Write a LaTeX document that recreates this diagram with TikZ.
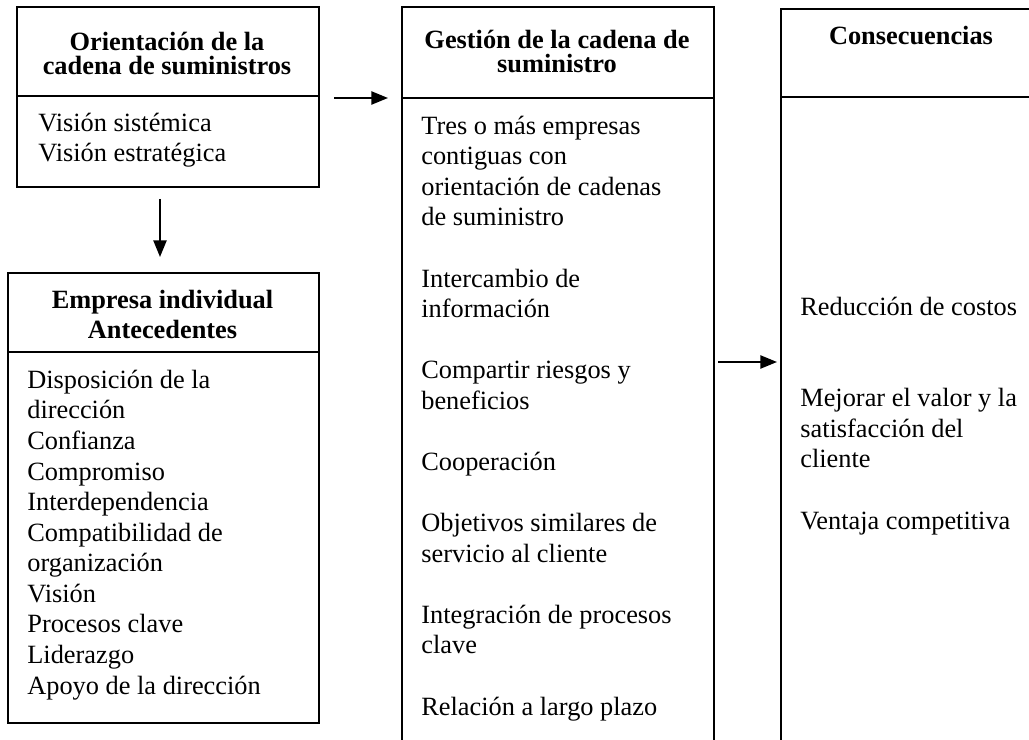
\documentclass[tikz,border=0pt]{standalone}
\usepackage{fontspec}
\setmainfont{Liberation Serif}
\usetikzlibrary{arrows.meta}
\tikzset{
	caja/.style={draw, line width=1.1pt, rectangle, inner sep=0pt, anchor=north west},
	titulo/.style={font=\bfseries\fontsize{15}{13.9}\selectfont, align=center, anchor=base, inner sep=0pt},
	lista/.style={font=\fontsize{15}{17.4}\selectfont, align=left, anchor=base west, inner sep=0pt},
	flecha/.style={line width=1.1pt, -{Triangle[length=9.5pt,width=7.5pt]}}
}
\begin{document}
\begin{tikzpicture}[x=0.02cm, y=-0.02cm]
				\useasboundingbox (0,0) rectangle (1029,740);
				\clip (0,0) rectangle (1029,740);
				\node[caja, minimum width=6.04cm, minimum height=3.6cm] (orient) at (16,6) {};
				\node[caja, minimum width=6.22cm, minimum height=9cm] (empresa) at (7,272) {};
				\node[caja, minimum width=6.24cm, minimum height=15.2cm] (gestion) at (401,6) {};
				\node[caja, minimum width=5.24cm, minimum height=15.2cm] (consec) at (780,8) {};
				\draw[line width=1.1pt] (orient.north west) ++(0,90) coordinate (d1) -- (d1 -| orient.east);
				\draw[line width=1.1pt] (empresa.north west) ++(0,80) coordinate (d2) -- (d2 -| empresa.east);
				\draw[line width=1.1pt] (gestion.north west) ++(0,92) coordinate (d3) -- (d3 -| gestion.east);
				\draw[line width=1.1pt] (consec.north west) ++(0,89) coordinate (d4) -- (d4 -| consec.east);
				\node[titulo] (t1) at (167,75) {Orientación de la\\cadena de suministros};
				\node[titulo, font=\bfseries\fontsize{15}{17}\selectfont] (t2) at (162.5,338) {Empresa individual\\Antecedentes};
				\node[titulo] (t3) at (557,73) {Gestión de la cadena de\\suministro};
				\node[titulo] (t4) at (911,45) {Consecuencias};
				\node[lista] (l1) at (38,162) {Visión sistémica\\Visión estratégica};
				\node[lista] (l2) at (27,694) {Disposición de la\\dirección\\Confianza\\Compromiso\\Interdependencia\\Compatibilidad de\\organización\\Visión\\Procesos clave\\Liderazgo\\Apoyo de la dirección};
				\node[lista] (l3) at (421,715) {Tres o más empresas\\contiguas con\\orientación de cadenas\\de suministro\\[17.4pt]Intercambio de\\información\\[17.4pt]Compartir riesgos y\\beneficios\\[17.4pt]Cooperación\\[17.4pt]Objetivos similares de\\servicio al cliente\\[17.4pt]Integración de procesos\\clave\\[17.4pt]Relación a largo plazo};
				\node[lista] (l4) at (800,529) {Reducción de costos\\[34.8pt]Mejorar el valor y la\\satisfacción del\\cliente\\[17.4pt]Ventaja competitiva};
				\coordinate (a1) at (160,199);
				\coordinate (a2) at (160,257);
				\coordinate (b1) at (334,98);
				\coordinate (b2) at (388,98);
				\coordinate (c1) at (718,362);
				\coordinate (c2) at (777,362);
				\draw[flecha] (a1) -- (a2);
				\draw[flecha] (b1) -- (b2);
				\draw[flecha] (c1) -- (c2);
			\end{tikzpicture}
\end{document}
